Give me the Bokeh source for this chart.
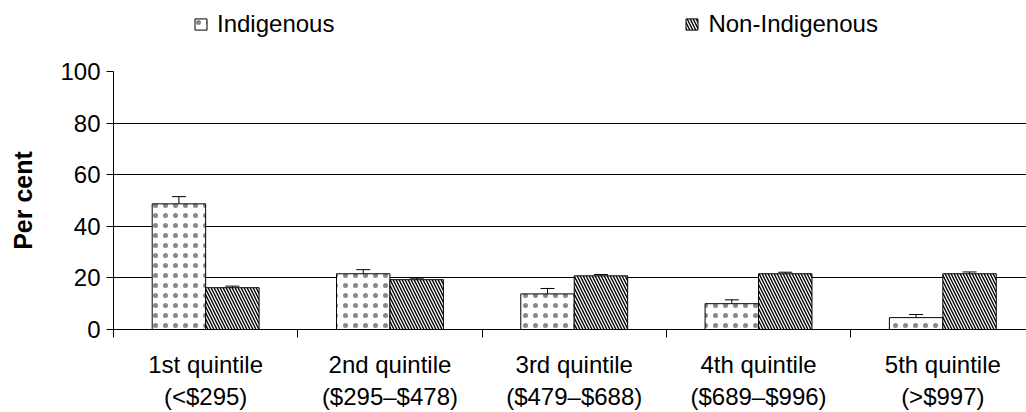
from bokeh.plotting import figure
from bokeh.layouts import column
from bokeh.models import ColumnDataSource, FixedTicker, Whisker, TeeHead, Legend, LegendItem, Range1d
from bokeh.embed import file_html
from bokeh.resources import INLINE

categories = ["1st quintile\n(<$295)", "2nd quintile\n($295\u2013$478)", "3rd quintile\n($479\u2013$688)",
              "4th quintile\n($689\u2013$996)", "5th quintile\n(>$997)"]
indigenous = [48.7, 21.6, 13.8, 10.0, 4.6]
indigenous_err = [2.8, 1.6, 2.1, 1.5, 1.2]
non_indigenous = [16.2, 19.3, 20.8, 21.6, 21.6]
non_indigenous_err = [0.6, 0.6, 0.5, 0.6, 0.7]
y_ticks = [0, 20, 40, 60, 80, 100]
series_names = ["Indigenous", "Non-Indigenous"]

FONT = "Liberation Sans"
BW = 0.29
centers = [i + 0.5 for i in range(len(categories))]
bounds = list(range(len(categories) + 1))

STYLE_I = dict(fill_color="white", line_color="black", line_width=1, hatch_pattern=".",
               hatch_scale=10, hatch_color="#888888", hatch_weight=0.5)
STYLE_N = dict(fill_color="white", line_color="black", line_width=1, hatch_pattern="\\",
               hatch_scale=6, hatch_color="black", hatch_weight=1.4)

src_i = ColumnDataSource(dict(
    x=[c - BW / 2 for c in centers], top=indigenous,
    upper=[v + e for v, e in zip(indigenous, indigenous_err)],
    lower=[v - e for v, e in zip(indigenous, indigenous_err)]))
src_n = ColumnDataSource(dict(
    x=[c + BW / 2 for c in centers], top=non_indigenous,
    upper=[v + e for v, e in zip(non_indigenous, non_indigenous_err)],
    lower=[v - e for v, e in zip(non_indigenous, non_indigenous_err)]))

# ---- legend strip (its bars lie far outside its visible ranges; only the legend shows) ----
lg = figure(width=1026, height=50, x_range=Range1d(1000, 1005), y_range=Range1d(1000, 1001),
            output_backend="svg", toolbar_location=None, x_axis_location=None, y_axis_location=None,
            min_border_left=0, min_border_right=0, min_border_top=0, min_border_bottom=0)
lg.outline_line_color = None
lg.xgrid.visible = False
lg.ygrid.visible = False
d1 = lg.vbar(x="x", top="top", width=BW, bottom=0, source=src_i, **STYLE_I)
d2 = lg.vbar(x="x", top="top", width=BW, bottom=0, source=src_n, **STYLE_N)
legend = Legend(items=[LegendItem(label=series_names[0], renderers=[d1]),
                       LegendItem(label=series_names[1], renderers=[d2])],
                orientation="horizontal", location=(80, 12), spacing=350,
                padding=0, margin=0, border_line_color=None, background_fill_color=None,
                glyph_width=15, glyph_height=14, label_standoff=9,
                label_text_font=FONT, label_text_font_size="24px", label_text_color="black")
lg.add_layout(legend, "center")

# ---- main plot ----
p = figure(width=1026, height=362, x_range=Range1d(0, 4.954), y_range=Range1d(0, 100),
           output_backend="svg", toolbar_location=None,
           min_border_left=113, min_border_right=0, min_border_top=21, min_border_bottom=83)
p.outline_line_color = None
p.background_fill_color = "white"

r1 = p.vbar(x="x", top="top", width=BW, bottom=0, source=src_i, **STYLE_I)
r2 = p.vbar(x="x", top="top", width=BW, bottom=0, source=src_n, **STYLE_N)

for s in (src_i, src_n):
    w = Whisker(source=s, base="x", upper="upper", lower="lower", line_color="black", line_width=1,
                upper_head=TeeHead(size=14, line_color="black", line_width=1),
                lower_head=TeeHead(size=14, line_color="black", line_width=1))
    p.add_layout(w)

# y axis
p.yaxis.ticker = FixedTicker(ticks=y_ticks)
p.yaxis.axis_label = "Per cent"
p.yaxis.axis_label_text_font = FONT
p.yaxis.axis_label_text_font_size = "25px"
p.yaxis.axis_label_text_font_style = "bold"
p.yaxis.axis_label_text_color = "black"
p.yaxis.axis_label_standoff = 20
p.yaxis.major_label_text_font = FONT
p.yaxis.major_label_text_font_size = "24px"
p.yaxis.major_label_text_color = "black"
p.yaxis.major_tick_out = 7
p.yaxis.major_tick_in = 0
p.yaxis.major_label_standoff = 6
p.yaxis.minor_tick_line_color = None
p.yaxis.axis_line_color = "black"
p.yaxis.major_tick_line_color = "black"

p.ygrid.ticker = FixedTicker(ticks=y_ticks)
p.ygrid.grid_line_color = "black"
p.xgrid.visible = False

# x axis
p.xaxis.ticker = FixedTicker(ticks=centers, minor_ticks=bounds)
p.xaxis.major_label_overrides = {c: lab for c, lab in zip(centers, categories)}
p.xaxis.major_tick_out = 0
p.xaxis.major_tick_in = 0
p.xaxis.minor_tick_out = 8
p.xaxis.minor_tick_in = 0
p.xaxis.minor_tick_line_color = "black"
p.xaxis.axis_line_color = "black"
p.xaxis.major_label_text_font = FONT
p.xaxis.major_label_text_font_size = "24px"
p.xaxis.major_label_text_color = "black"
p.xaxis.major_label_text_line_height = 1.2
p.xaxis.major_label_standoff = 13

layout = column(lg, p, spacing=0)
open("out.html", "w").write(file_html(layout, INLINE))
